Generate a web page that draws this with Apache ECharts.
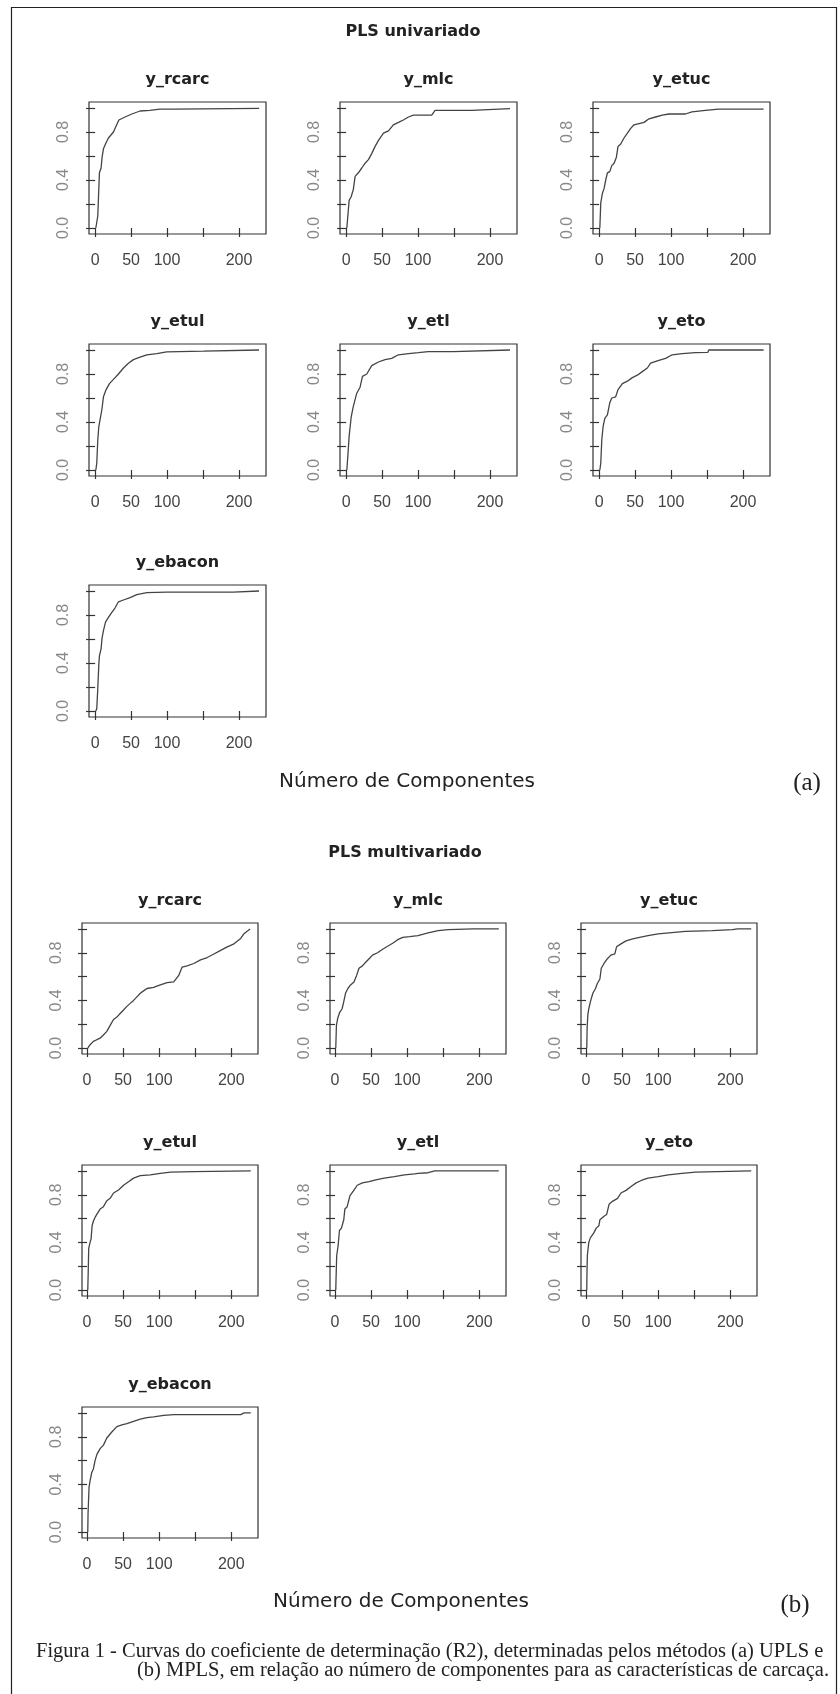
<!DOCTYPE html>
<html>
<head>
<meta charset="utf-8">
<script src="https://cdn.jsdelivr.net/npm/echarts@6/dist/echarts.min.js"></script>
<style>
    html, body { margin: 0; padding: 0; background: #fff; }
    #chart { width: 840px; height: 1694px; }
</style>
</head>
<body>
<div id="chart"></div>
<script>
// panel names, same order in both figures
const panelNames = ['y_rcarc', 'y_mlc', 'y_etuc', 'y_etul', 'y_etl', 'y_eto', 'y_ebacon'];

// tick positions / labels (R drops the 150 and 0.2/0.6/1.0 labels)
const xTicks = [0, 50, 100, 150, 200];
const xLabels = [0, 50, 100, 200];
const yTicks = [0, 0.2, 0.4, 0.6, 0.8, 1.0];
const yLabels = [0, 0.4, 0.8];

// (a) PLS univariado - [componentes, R2]
const uplsRcarc = [[1,0],[2.3,0.01],[3.7,0.1],[5.1,0.32],[6,0.46],[8.3,0.5],[9.7,0.59],[11.6,0.66],[14.4,0.7],[18.5,0.75],[25.5,0.8],[30,0.86],[33,0.9],[41.7,0.925],[51,0.95],[62.5,0.975],[76,0.98],[90,0.99],[111,0.99],[112,0.997],[228,0.997]];
const uplsMlc = [[1,0],[2.3,0.01],[4.2,0.23],[7,0.26],[10,0.32],[12.5,0.43],[17,0.46],[21.8,0.5],[26.4,0.54],[31,0.57],[35.6,0.62],[40.3,0.68],[45,0.73],[51.9,0.79],[58.8,0.81],[65.7,0.86],[72.7,0.88],[79.6,0.9],[86.6,0.925],[93.5,0.94],[119,0.94],[123.6,0.98],[174.5,0.98],[176.9,0.995],[227.8,0.995]];
const uplsEtuc = [[1,0],[2.3,0.21],[4.6,0.29],[6.9,0.33],[9.2,0.4],[11.5,0.46],[14.8,0.47],[17.6,0.52],[20.8,0.54],[24,0.59],[26.3,0.68],[30,0.7],[34.6,0.75],[39.3,0.79],[43.9,0.83],[48.5,0.86],[55.4,0.87],[62.4,0.88],[69.3,0.91],[78.5,0.925],[87.8,0.94],[97,0.95],[120,0.95],[129,0.967],[147.8,0.98],[166,0.99],[228.6,0.99]];
const uplsEtul = [[1,0],[2.3,0.056],[3.7,0.25],[5.1,0.36],[6.9,0.42],[9.3,0.5],[11.6,0.61],[15.3,0.67],[19.9,0.72],[25.5,0.755],[32.4,0.8],[39.4,0.85],[46.3,0.89],[53.2,0.92],[62.5,0.94],[71.8,0.96],[85.6,0.97],[99.5,0.985],[150.5,0.99],[151.4,1.0],[227.8,1.0]];
const uplsEtl = [[1,0],[2.3,0.11],[4.2,0.28],[7,0.44],[10,0.53],[14.8,0.64],[19.4,0.69],[22.7,0.78],[28.7,0.8],[35.6,0.87],[44.9,0.9],[54.2,0.92],[63.4,0.93],[72.7,0.96],[86.6,0.97],[100.5,0.978],[114,0.986],[149,0.986],[150,1.0],[227.8,1.0]];
const uplsEto = [[1,0],[2.3,0.056],[3.7,0.25],[5.5,0.36],[7.9,0.43],[11.5,0.46],[14.8,0.56],[17.6,0.6],[23,0.61],[26.3,0.67],[32.3,0.72],[39.3,0.74],[46.2,0.77],[53.1,0.79],[60,0.82],[67,0.85],[71.6,0.89],[80.8,0.91],[92.4,0.93],[101.6,0.96],[115.5,0.97],[134,0.978],[151,0.98],[152.4,1.0],[228.6,1.0]];
const uplsEbacon = [[1,0],[2.3,0.02],[3.7,0.185],[5.1,0.38],[6,0.46],[8.3,0.52],[9.7,0.61],[11.6,0.67],[14.4,0.74],[18.5,0.78],[23,0.82],[27.8,0.86],[32.4,0.91],[39.4,0.925],[48.6,0.945],[57.9,0.97],[71.8,0.986],[99.5,0.99],[192,0.99],[194.4,1.0],[227.8,1.0]];

// (b) PLS multivariado
const mplsRcarc = [[1,0],[4.2,0.028],[8.8,0.056],[13.5,0.07],[18.1,0.083],[22.7,0.11],[27.4,0.14],[32,0.19],[36.7,0.24],[41.3,0.26],[45.9,0.29],[50.6,0.32],[55.2,0.35],[59.9,0.375],[64.5,0.4],[69.1,0.43],[73.8,0.46],[78.4,0.48],[83.1,0.5],[92.3,0.51],[101.6,0.53],[110.9,0.55],[120.2,0.555],[127.1,0.61],[131.8,0.68],[138.7,0.69],[148,0.71],[157.3,0.74],[166.6,0.76],[175.9,0.79],[185.2,0.82],[194.4,0.85],[203.7,0.875],[213,0.92],[217.6,0.96],[226,1.0]];
const mplsMlc = [[1,0],[1.9,0.19],[3.7,0.25],[6.5,0.3],[9.8,0.33],[12.1,0.39],[14.5,0.46],[17.8,0.5],[21.5,0.53],[26.2,0.555],[29.9,0.61],[33.2,0.67],[37.9,0.69],[42.5,0.72],[47.2,0.75],[51.9,0.78],[58.9,0.8],[65.9,0.83],[72.9,0.855],[79.9,0.88],[86.9,0.91],[93.9,0.93],[103.3,0.936],[115,0.944],[129,0.967],[143,0.986],[157,0.994],[192,1.0],[227,1.0]];
const mplsEtuc = [[1,0],[1.5,0.17],[2.5,0.28],[3.8,0.33],[6.1,0.39],[8.5,0.39],[9.4,0.46],[13.1,0.5],[15.5,0.54],[19.2,0.58],[21.1,0.67],[24.9,0.71],[29.6,0.75],[34.3,0.78],[39.9,0.79],[42.3,0.85],[48.4,0.875],[55.4,0.9],[64.8,0.917],[74.2,0.93],[85.9,0.944],[100,0.958],[118.8,0.97],[137.6,0.98],[175,0.986],[203,0.994],[210,1.0],[229,1.0]];
const mplsEtul = [[1,0],[1.5,0.12],[2.3,0.35],[4.2,0.4],[5.6,0.43],[7,0.54],[8.8,0.58],[11.1,0.61],[13.5,0.635],[18.1,0.68],[22.7,0.7],[27.4,0.75],[32,0.77],[36.7,0.815],[43.6,0.84],[50.6,0.88],[57.5,0.91],[64.5,0.94],[73.8,0.96],[87.7,0.967],[101.6,0.98],[115.5,0.99],[148,0.995],[150.3,1.0],[227,1.0]];
const mplsEtl = [[1,0],[1.5,0.12],[2.3,0.29],[4.2,0.37],[6.1,0.5],[8.9,0.52],[12.1,0.59],[13.6,0.68],[16.8,0.7],[20.6,0.79],[25.2,0.83],[30.8,0.88],[37.9,0.9],[47.2,0.91],[56.5,0.925],[68.2,0.94],[82.2,0.953],[96.3,0.967],[110.3,0.975],[115,0.98],[129,0.985],[138.3,1.0],[227,1.0]];
const mplsEto = [[1,0],[1.2,0.12],[1.8,0.29],[3.8,0.4],[6.1,0.44],[10.8,0.48],[14.1,0.52],[17.8,0.54],[19.2,0.59],[24.9,0.62],[28.6,0.635],[31.9,0.72],[36.6,0.745],[43.7,0.77],[48.4,0.815],[55.4,0.837],[62.4,0.87],[69.5,0.9],[76.5,0.92],[85.9,0.94],[100,0.953],[114,0.967],[132.9,0.98],[151.6,0.99],[182,0.994],[184.5,1.0],[229,1.0]];
const mplsEbacon = [[1,0],[1.4,0.16],[2.8,0.38],[4.2,0.43],[6.5,0.5],[8.8,0.53],[11.1,0.6],[13.5,0.65],[18.1,0.7],[22.7,0.73],[27.4,0.79],[34.3,0.84],[41.3,0.885],[48.3,0.9],[55.2,0.91],[64.5,0.93],[73.8,0.948],[83.1,0.96],[92.3,0.967],[106.3,0.98],[120.2,0.986],[213,0.986],[217.6,1.0],[227,1.0]];

const uplsData = [uplsRcarc, uplsMlc, uplsEtuc, uplsEtul, uplsEtl, uplsEto, uplsEbacon];
const mplsData = [mplsRcarc, mplsMlc, mplsEtuc, mplsEtul, mplsEtl, mplsEto, mplsEbacon];

// plot box positions in px (3x3 grid, last row only one cell)
const layoutA = { cols: [89, 340, 593], rows: [102, 344, 585], w: 177, h: 132, xMin: -8.5, xMax: 237.5 };
const layoutB = { cols: [82, 330, 581], rows: [923, 1165, 1407], w: 176, h: 131, xMin: -7, xMax: 237 };

const sansFont = '"Liberation Sans", Arial, sans-serif';
const titleFont = '"DejaVu Sans", sans-serif';
const serifFont = '"Liberation Serif", "Times New Roman", serif';

let grids = [], xAxes = [], yAxes = [], series = [], graphics = [];

function addPanel(layout, idx, data, name) {
    let col = idx % 3, row = Math.floor(idx / 3);
    let left = layout.cols[col], top = layout.rows[row];
    let g = grids.length;
    grids.push({
        left: left, top: top, width: layout.w, height: layout.h,
        show: true, borderColor: '#333', borderWidth: 1.2, backgroundColor: 'transparent'
    });
    xAxes.push({
        type: 'value', gridIndex: g, min: layout.xMin, max: layout.xMax,
        axisLine: { show: false },
        splitLine: { show: false },
        axisTick: { show: true, customValues: xTicks, length: 9, lineStyle: { color: '#333', width: 1.2 } },
        axisLabel: { customValues: xLabels, margin: 19, color: '#444', fontSize: 16, fontFamily: sansFont }
    });
    yAxes.push({
        type: 'value', gridIndex: g, min: -0.05, max: 1.05,
        axisLine: { show: false },
        splitLine: { show: false },
        axisTick: { show: true, customValues: yTicks, length: 9, lineStyle: { color: '#333', width: 1.2 } },
        axisLabel: {
            customValues: yLabels, rotate: 90, margin: 17, color: '#888', fontSize: 16, fontFamily: sansFont,
            formatter: function (v) { return v.toFixed(1); }
        }
    });
    series.push({
        type: 'line', xAxisIndex: g, yAxisIndex: g, data: data,
        symbol: 'none', silent: true,
        lineStyle: { color: '#444', width: 1.3 }
    });
    graphics.push({
        type: 'text', x: left + layout.w / 2, y: top - 22,
        style: { text: name, fill: '#222', font: 'bold 16px ' + titleFont, align: 'center', verticalAlign: 'middle' }
    });
}

for (let i = 0; i < panelNames.length; i++) {
    addPanel(layoutA, i, uplsData[i], panelNames[i]);
    addPanel(layoutB, i, mplsData[i], panelNames[i]);
}

function label(x, y, text, font, fill, align) {
    graphics.push({
        type: 'text', x: x, y: y,
        style: { text: text, fill: fill || '#222', font: font, align: align || 'center', verticalAlign: 'middle' }
    });
}

// outer frame
graphics.push({
    type: 'rect', shape: { x: 11.5, y: 7.5, width: 825, height: 1720 },
    style: { fill: 'none', stroke: '#222', lineWidth: 1.2 }
});

label(413, 32, 'PLS univariado', 'bold 16px ' + titleFont);
label(407, 782, 'Número de Componentes', '20px ' + titleFont);
label(807, 783, '(a)', '25px ' + serifFont);
label(405, 853, 'PLS multivariado', 'bold 16px ' + titleFont);
label(401, 1602, 'Número de Componentes', '20px ' + titleFont);
label(795, 1605, '(b)', '25px ' + serifFont);

label(36, 1652, 'Figura 1 - Curvas do coeficiente de determinação (R2), determinadas pelos métodos (a) UPLS e', '20.5px ' + serifFont, '#222', 'left');
label(829, 1671, '(b) MPLS, em relação ao número de componentes para as características de carcaça.', '20.5px ' + serifFont, '#222', 'right');

let myChart = echarts.init(document.getElementById('chart'));
myChart.setOption({
    animation: false,
    backgroundColor: '#fff',
    grid: grids,
    xAxis: xAxes,
    yAxis: yAxes,
    series: series,
    graphic: graphics
});
</script>
</body>
</html>
